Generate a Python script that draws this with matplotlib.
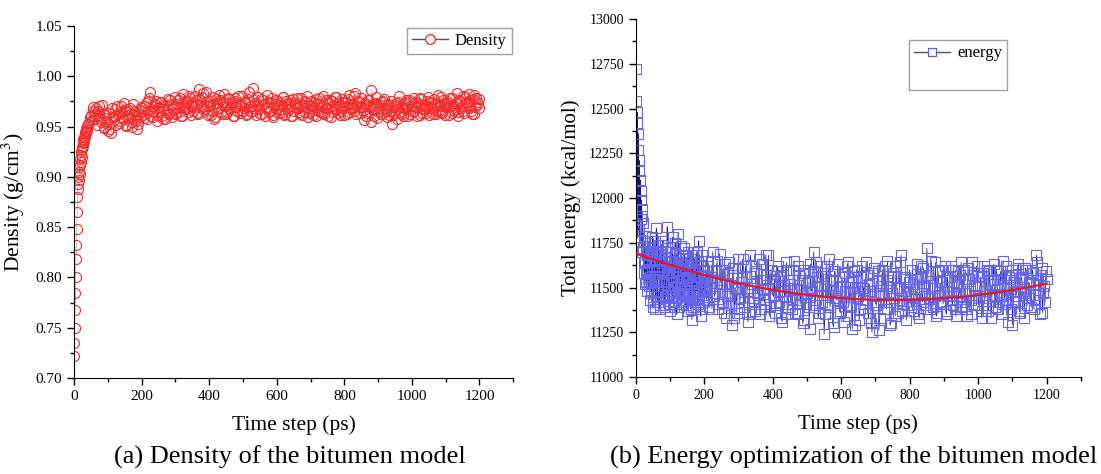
import numpy as np
import matplotlib
matplotlib.use("Agg")
import matplotlib.pyplot as plt
from matplotlib.lines import Line2D
from matplotlib.ticker import MultipleLocator, FormatStrFormatter

plt.rcParams['font.family'] = ['Liberation Serif', 'DejaVu Serif']
plt.rcParams['mathtext.fontset'] = 'stix'

# ---- (a) density data ----
dens_t_early = list(range(0, 41))
dens_early = [0.722, 0.735, 0.750, 0.768, 0.785, 0.800, 0.818, 0.832, 0.848, 0.865, 0.880,
              0.888, 0.893, 0.900, 0.897, 0.905, 0.910, 0.903, 0.912, 0.918, 0.915,
              0.922, 0.926, 0.920, 0.930, 0.928, 0.934, 0.931, 0.938, 0.935, 0.940,
              0.937, 0.942, 0.945, 0.940, 0.946, 0.944, 0.949, 0.947, 0.951, 0.953]
dens_t_a = list(range(45, 1201, 5))
dens_a = [
    0.955, 0.962, 0.966, 0.958, 0.968, 0.961, 0.970, 0.955, 0.964, 0.950, 0.959, 0.946,
    0.953, 0.944, 0.960, 0.967, 0.952, 0.963, 0.956, 0.970, 0.958, 0.966, 0.951, 0.962,
    0.968, 0.955, 0.972, 0.957, 0.948, 0.953, 0.960, 0.966,
    0.962, 0.970, 0.958, 0.975, 0.984, 0.966, 0.960, 0.972, 0.956, 0.968,
    0.974, 0.961, 0.967, 0.958, 0.971, 0.964, 0.976, 0.960, 0.969, 0.963,
    0.972, 0.965, 0.978, 0.961, 0.970, 0.975, 0.967, 0.980, 0.962, 0.973,
    0.969, 0.976, 0.964, 0.987, 0.971, 0.979, 0.966, 0.984, 0.970, 0.975,
    0.962, 0.972, 0.958, 0.977, 0.968, 0.981, 0.965, 0.974, 0.970, 0.963,
    0.978, 0.967, 0.972, 0.961, 0.975, 0.969, 0.980, 0.964, 0.971, 0.966,
    0.974, 0.962, 0.977, 0.970, 0.965, 0.988, 0.973, 0.967, 0.979, 0.963,
    0.971, 0.976, 0.961, 0.969, 0.974, 0.966, 0.978, 0.962, 0.972, 0.968,
    0.975, 0.964, 0.970, 0.979, 0.963, 0.972, 0.967, 0.976, 0.961, 0.973,
    0.969, 0.978, 0.965, 0.971, 0.962, 0.975, 0.968, 0.980, 0.964, 0.970,
    0.966, 0.974, 0.961, 0.972, 0.978, 0.965, 0.970, 0.963, 0.976, 0.968,
    0.973, 0.960, 0.975, 0.967, 0.979, 0.964, 0.971, 0.966, 0.974, 0.962,
    0.970, 0.977, 0.965, 0.972, 0.968, 0.980, 0.963, 0.974, 0.969, 0.978,
    0.966, 0.973, 0.961, 0.976, 0.970, 0.986, 0.972, 0.967, 0.979, 0.965,
    0.971, 0.963, 0.975, 0.968, 0.960, 0.972, 0.966, 0.953, 0.962, 0.970,
    0.958, 0.974, 0.965, 0.969, 0.961, 0.973, 0.967, 0.976, 0.963, 0.970,
    0.966, 0.974, 0.961, 0.971, 0.978, 0.964, 0.970, 0.967, 0.975, 0.962,
    0.973, 0.968, 0.977, 0.963, 0.971, 0.966, 0.979, 0.964, 0.972, 0.969,
    0.975, 0.962, 0.970, 0.978, 0.966, 0.973, 0.961, 0.976, 0.968, 0.980,
    0.964, 0.974, 0.970, 0.982, 0.966, 0.977, 0.963, 0.978, 0.972, 0.968]
dens_t_b = [t + 2.5 for t in range(45, 1196, 5)]
dens_b = [
    0.960, 0.957, 0.969, 0.963, 0.952, 0.966, 0.958, 0.971, 0.949, 0.962,
    0.955, 0.964, 0.948, 0.968, 0.957, 0.961, 0.970, 0.954, 0.965, 0.960,
    0.973, 0.952, 0.967, 0.959, 0.963, 0.950, 0.966, 0.961, 0.956, 0.963, 0.969,
    0.968, 0.959, 0.973, 0.965, 0.978, 0.961, 0.970, 0.966, 0.975, 0.962,
    0.969, 0.974, 0.958, 0.971, 0.965, 0.977, 0.963, 0.972, 0.967, 0.979,
    0.964, 0.976, 0.969, 0.961, 0.982, 0.968, 0.973, 0.965, 0.978, 0.970,
    0.966, 0.980, 0.972, 0.963, 0.976, 0.969, 0.983, 0.967, 0.974, 0.962,
    0.971, 0.966, 0.979, 0.960, 0.973, 0.968, 0.976, 0.963, 0.982, 0.970,
    0.965, 0.977, 0.969, 0.974, 0.961, 0.978, 0.966, 0.972, 0.964, 0.980,
    0.968, 0.973, 0.963, 0.984, 0.970, 0.966, 0.976, 0.962, 0.971, 0.967,
    0.977, 0.963, 0.972, 0.968, 0.981, 0.965, 0.974, 0.960, 0.970, 0.976,
    0.964, 0.971, 0.967, 0.979, 0.962, 0.975, 0.969, 0.973, 0.961, 0.977,
    0.966, 0.972, 0.968, 0.963, 0.978, 0.970, 0.965, 0.974, 0.960, 0.971,
    0.975, 0.962, 0.969, 0.977, 0.966, 0.972, 0.964, 0.980, 0.968, 0.973,
    0.961, 0.976, 0.970, 0.965, 0.979, 0.967, 0.973, 0.962, 0.977, 0.969,
    0.974, 0.963, 0.981, 0.968, 0.972, 0.966, 0.983, 0.970, 0.975, 0.964,
    0.969, 0.957, 0.971, 0.964, 0.976, 0.955, 0.967, 0.961, 0.973, 0.959,
    0.968, 0.974, 0.963, 0.977, 0.966, 0.971, 0.962, 0.975, 0.969, 0.964,
    0.973, 0.967, 0.980, 0.963, 0.972, 0.968, 0.976, 0.961, 0.974, 0.970,
    0.965, 0.978, 0.969, 0.973, 0.962, 0.977, 0.967, 0.971, 0.964, 0.979,
    0.968, 0.974, 0.963, 0.972, 0.966, 0.981, 0.970, 0.965, 0.976, 0.962,
    0.973, 0.969, 0.978, 0.964, 0.971, 0.967, 0.983, 0.965, 0.975, 0.970,
    0.966, 0.979, 0.972, 0.968, 0.976, 0.963, 0.981, 0.969, 0.974, 0.977]

# ---- (b) energy data ----
en_t_early = list(range(0, 21))
en_early = [12720, 11850, 12540, 11900, 12480, 12420, 11780, 12360, 12270, 11820, 12210,
            12150, 11760, 12100, 12040, 11880, 11990, 11940, 11700, 11900, 11860]
en_t_even = list(range(22, 201, 2))
en_even = [
    11720, 11580, 11650, 11790, 11530, 11680, 11600, 11750, 11510, 11640,
    11560, 11700, 11470, 11620, 11390, 11680, 11540, 11760, 11450, 11830,
    11600, 11420, 11700, 11550, 11380, 11660, 11480, 11740, 11590, 11400,
    11650, 11520, 11700, 11440, 11600, 11840, 11490, 11620, 11410, 11700,
    11530, 11650, 11450, 11780, 11580, 11390, 11620, 11500, 11690, 11350,
    11560, 11800, 11470, 11640, 11520, 11420, 11680, 11560, 11460, 11720,
    11500, 11610, 11400, 11660, 11540, 11450, 11700, 11480, 11590, 11380,
    11640, 11320, 11560, 11700, 11470, 11600, 11420, 11680, 11510, 11440,
    11620, 11760, 11480, 11560, 11340, 11650, 11500, 11420, 11600, 11530]
en_t_odd = list(range(23, 200, 2))
en_odd = [
    11640, 11760, 11520, 11700, 11590, 11480, 11720, 11550, 11660, 11430,
    11690, 11510, 11600, 11780, 11420, 11560, 11650, 11380, 11700, 11530,
    11480, 11740, 11560, 11620, 11400, 11690, 11520, 11580, 11760, 11450,
    11600, 11390, 11670, 11530, 11720, 11460, 11580, 11650, 11370, 11610,
    11480, 11700, 11560, 11420, 11640, 11530, 11750, 11440, 11590, 11510,
    11660, 11390, 11600, 11480, 11730, 11520, 11410, 11630, 11550, 11460,
    11680, 11430, 11570, 11500, 11640, 11370, 11560, 11610, 11440, 11520,
    11470, 11620, 11390, 11580, 11660, 11430, 11540, 11480, 11700, 11410,
    11560, 11450, 11620, 11380, 11530, 11680, 11460, 11570, 11490]
en_t_a = list(range(205, 1201, 5))
en_a = [
    11480, 11650, 11390, 11560, 11700, 11450, 11600, 11380, 11690, 11520,
    11420, 11630, 11330, 11580, 11470, 11290, 11610, 11500, 11360, 11660,
    11440, 11560, 11390, 11620, 11480, 11350, 11680, 11520, 11420, 11590,
    11470, 11660, 11380, 11540, 11430, 11680, 11500, 11340, 11600, 11460,
    11550, 11400, 11620, 11480, 11330, 11570, 11450, 11640, 11390, 11520,
    11430, 11600, 11360, 11490, 11620, 11410, 11540, 11320, 11580, 11470,
    11390, 11630, 11500, 11700, 11430, 11560, 11360, 11620, 11460, 11240,
    11550, 11400, 11660, 11480, 11300, 11590, 11440, 11630, 11370, 11510,
    11420, 11580, 11340, 11640, 11470, 11390, 11560, 11290, 11600, 11450,
    11380, 11620, 11500, 11430, 11570, 11330, 11480, 11250, 11610, 11420,
    11540, 11260, 11470, 11600, 11380, 11510, 11650, 11420, 11300, 11560,
    11440, 11620, 11360, 11500, 11680, 11410, 11550, 11320, 11470, 11600,
    11390, 11520, 11440, 11630, 11350, 11560, 11470, 11610, 11400, 11720,
    11500, 11380, 11590, 11450, 11640, 11360, 11530, 11420, 11600, 11480,
    11370, 11560, 11450, 11620, 11400, 11530, 11340, 11590, 11470, 11640,
    11420, 11550, 11380, 11610, 11480, 11350, 11570, 11460, 11620, 11400,
    11510, 11330, 11580, 11440, 11600, 11370, 11520, 11450, 11630, 11390,
    11550, 11420, 11590, 11350, 11500, 11620, 11430, 11560, 11380, 11290,
    11530, 11450, 11610, 11370, 11560, 11480, 11330, 11600, 11440, 11520,
    11390, 11580, 11460, 11680, 11540, 11350, 11610, 11470, 11420, 11550]
en_t_b = [t + 2.5 for t in range(200, 1196, 5)]
en_b = [
    11560, 11430, 11620, 11500, 11380, 11590, 11470, 11650, 11410, 11540,
    11600, 11360, 11520, 11450, 11640, 11400, 11570, 11330, 11490, 11610,
    11380, 11530, 11660, 11420, 11560, 11310, 11500, 11620, 11440, 11370,
    11580, 11460, 11350, 11630, 11490, 11410, 11570, 11680, 11390, 11520,
    11450, 11360, 11590, 11420, 11560, 11310, 11480, 11600, 11350, 11540,
    11500, 11380, 11650, 11430, 11350, 11570, 11460, 11300, 11600, 11410,
    11530, 11270, 11480, 11590, 11400, 11640, 11330, 11510, 11420, 11580,
    11350, 11620, 11460, 11390, 11540, 11280, 11590, 11430, 11510, 11360,
    11560, 11310, 11480, 11620, 11400, 11530, 11270, 11590, 11440, 11500,
    11320, 11560, 11410, 11480, 11640, 11360, 11520, 11300, 11580, 11450,
    11400, 11590, 11330, 11510, 11460, 11620, 11380, 11540, 11290, 11470,
    11580, 11340, 11500, 11430, 11640, 11370, 11480, 11560, 11400, 11530,
    11450, 11600, 11370, 11490, 11550, 11330, 11620, 11420, 11510, 11380,
    11570, 11440, 11650, 11390, 11500, 11340, 11590, 11460, 11530, 11410,
    11620, 11350, 11480, 11560, 11430, 11600, 11380, 11520, 11450, 11570,
    11390, 11600, 11470, 11340, 11550, 11430, 11640, 11400, 11510, 11580,
    11440, 11560, 11370, 11620, 11480, 11400, 11590, 11330, 11540, 11460,
    11600, 11380, 11520, 11450, 11650, 11410, 11570, 11310, 11490, 11600,
    11420, 11570, 11480, 11630, 11360, 11550, 11470, 11610, 11400, 11530,
    11460, 11600, 11380, 11520, 11640, 11430, 11570, 11360, 11510, 11590]

# fitted trend
fit_t = list(range(0, 1201, 50))
fit_e = [11690, 11657, 11626, 11597, 11570, 11546, 11524, 11504, 11487, 11472,
         11459, 11449, 11441, 11435, 11431, 11430, 11431, 11434, 11440, 11448,
         11458, 11471, 11486, 11503, 11522]


def merge(ts, vs):
    t = np.concatenate([np.asarray(x, float) for x in ts])
    v = np.concatenate([np.asarray(x, float) for x in vs])
    order = np.argsort(t, kind='stable')
    return t[order], v[order]


dens_t, dens = merge([dens_t_early, dens_t_a, dens_t_b], [dens_early, dens_a, dens_b])
en_t, energy = merge([en_t_early, en_t_even, en_t_odd, en_t_a, en_t_b],
                     [en_early, en_even, en_odd, en_a, en_b])

fig = plt.figure(figsize=(11.01, 4.74), dpi=100)
ax1 = fig.add_axes([0.0672, 0.2025, 0.399, 0.7426])
ax2 = fig.add_axes([0.5774, 0.2046, 0.4044, 0.7553])

for ax, tsize, lsize in ((ax1, 11, 15.5), (ax2, 10, 15)):
    ax.spines['top'].set_visible(False)
    ax.spines['right'].set_visible(False)
    ax.tick_params(direction='out', length=5, width=1, labelsize=tsize)
    ax.tick_params(which='minor', direction='out', length=3, width=1)
    ax.set_xlim(0, 1300)
    ax.xaxis.set_minor_locator(MultipleLocator(100))
    ax.set_xticks(range(0, 1201, 200))
    ax.set_xlabel('Time step (ps)', fontsize=lsize, labelpad=9)

# (a) density
ax1.plot(dens_t, dens, color='#777777', lw=0.3, zorder=1)
ax1.plot(dens_t, dens, ls='none', marker='o', ms=7.2, mfc='none', mec='#ff2a2a',
         mew=0.8, zorder=2)
ax1.set_ylim(0.70, 1.05)
ax1.yaxis.set_major_locator(MultipleLocator(0.05))
ax1.yaxis.set_minor_locator(MultipleLocator(0.025))
ax1.yaxis.set_major_formatter(FormatStrFormatter('%.2f'))
ax1.set_ylabel('Density (g/cm$^3$)', fontsize=15.5, labelpad=6)
h1 = Line2D([], [], color='#555555', lw=1, marker='o', ms=7, mfc='white',
            mec='#ff2020', mew=0.9)
ax1.legend([h1], ['Density'], loc='upper right', bbox_to_anchor=(1.0, 1.0),
           fontsize=12, frameon=True, fancybox=False, edgecolor='#888888',
           handlelength=2.2, handletextpad=0.4, borderpad=0.3, borderaxespad=0.1)

# (b) energy
ax2.plot(en_t, energy, color='#121280', lw=0.5, zorder=1)
ax2.plot(en_t, energy, ls='none', marker='s', ms=6.5, mfc='none', mec='#6464ee',
         mew=0.8, zorder=2)
ax2.plot(fit_t, fit_e, color='#e8141e', lw=1.6, zorder=3)
ax2.set_ylim(11000, 13000)
ax2.yaxis.set_major_locator(MultipleLocator(250))
ax2.yaxis.set_minor_locator(MultipleLocator(125))
ax2.set_ylabel('Total energy (kcal/mol)', fontsize=15, labelpad=6)
h2 = Line2D([], [], color='#555555', lw=1, marker='s', ms=6, mfc='white',
            mec='#5a5ae6', mew=0.9)
blank = Line2D([], [], color='none')
ax2.legend([h2, blank], ['energy', ' '], loc='upper left', bbox_to_anchor=(0.613, 0.94),
           fontsize=12, frameon=True, fancybox=False, edgecolor='#888888',
           handlelength=2.2, handletextpad=0.4, borderpad=0.3, labelspacing=0.45,
           borderaxespad=0)

fig.text(0.263, 0.035, '(a) Density of the bitumen model', ha='center', va='center',
         fontsize=19)
fig.text(0.775, 0.035, '(b) Energy optimization of the bitumen model', ha='center',
         va='center', fontsize=19)

fig.savefig('out.png', dpi=100)
